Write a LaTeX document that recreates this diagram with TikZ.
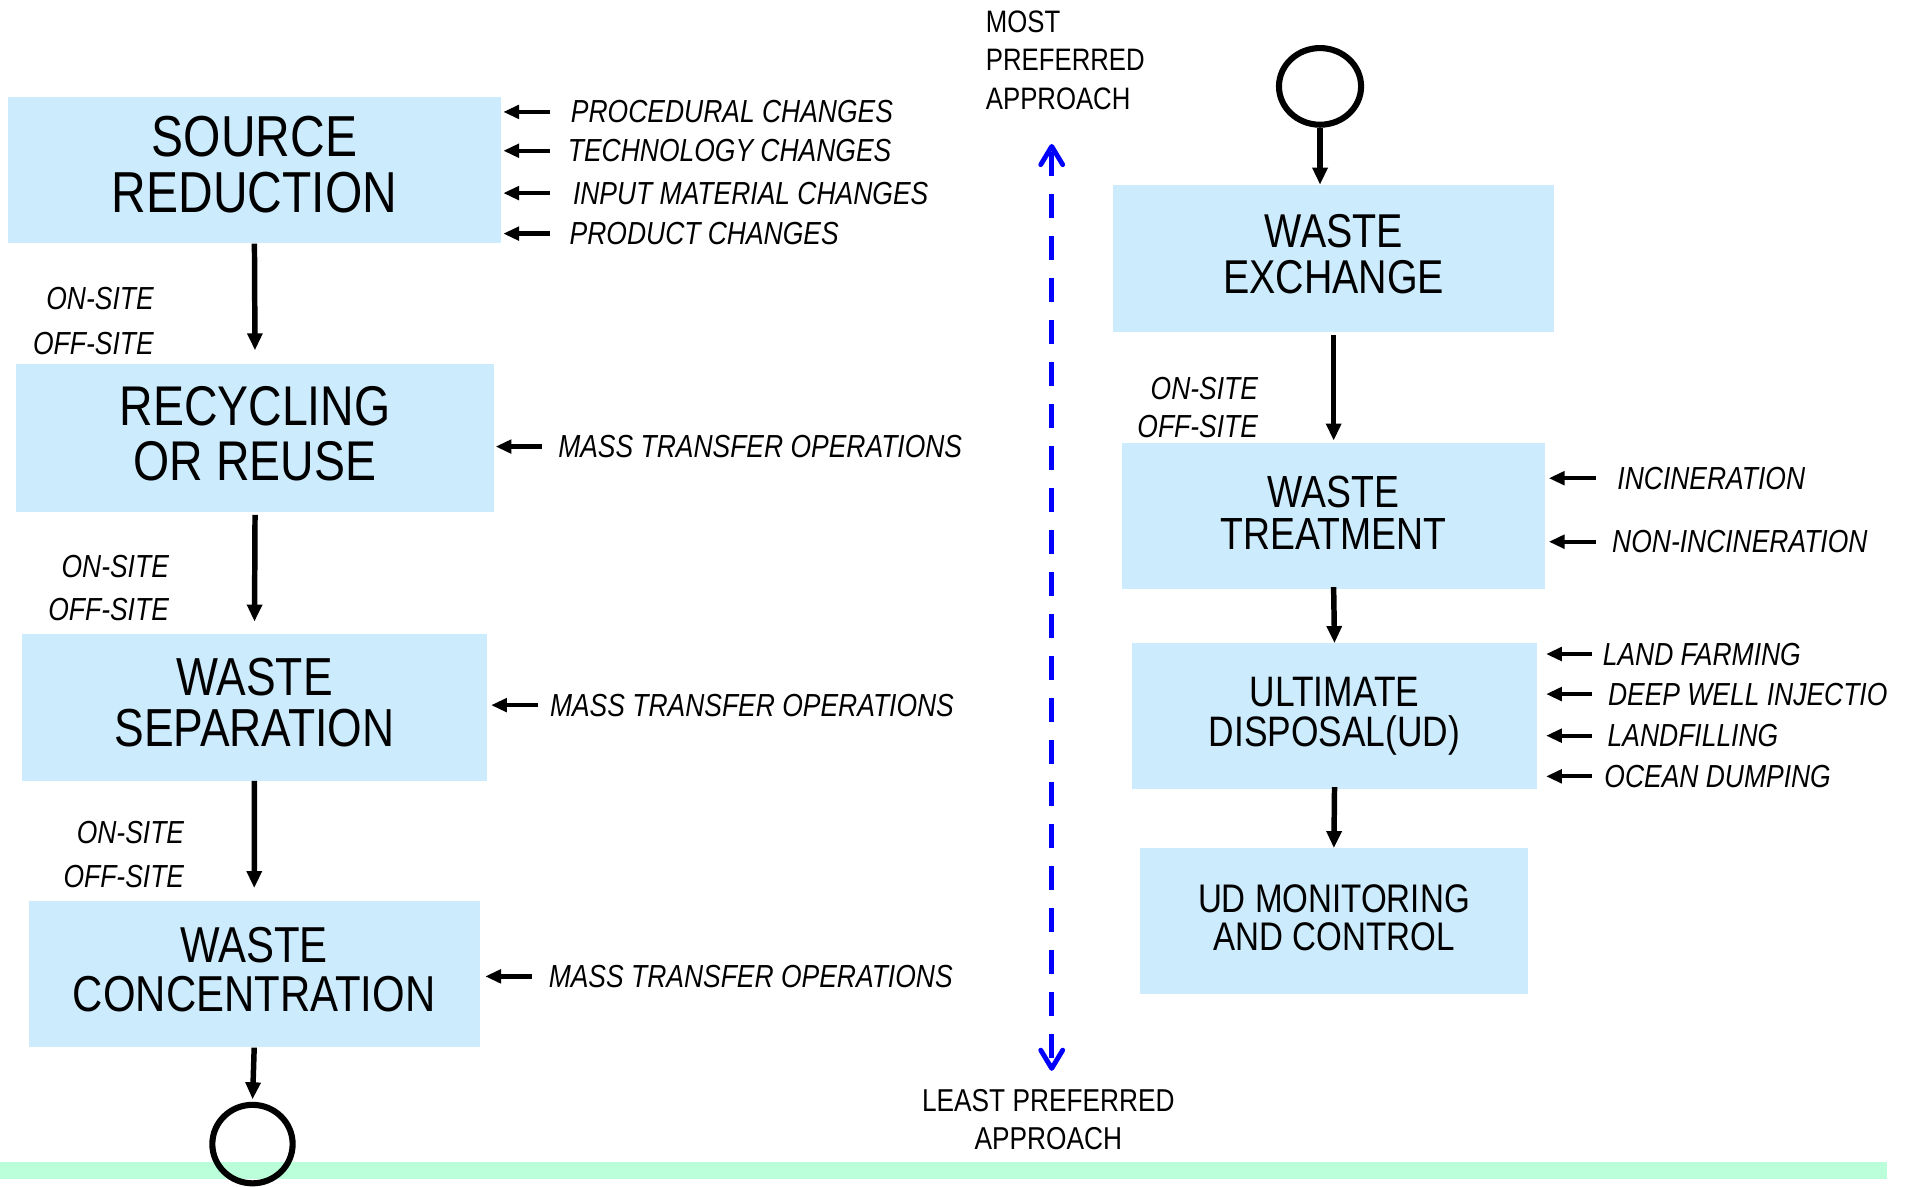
\documentclass[tikz,border=0pt]{standalone}
\usepackage{fontspec}
\setmainfont{Liberation Sans}[FakeStretch=0.83]
\usetikzlibrary{arrows.meta,shapes.geometric,calc}
\definecolor{boxfill}{RGB}{204,235,252}
\definecolor{barfill}{RGB}{187,255,218}
\definecolor{prefblue}{RGB}{0,0,255}
\newcommand\fsz[2]{\fontsize{#1}{#2}\selectfont}

\begin{document}
\begin{tikzpicture}[x=1pt,y=-1pt,
  stage/.style={fill=boxfill,inner sep=0pt},
  stagetext/.style={inner sep=0pt,align=center},
  flow/.style={line width=4.5pt,-{Triangle[length=14pt,width=12pt]}},
  feed/.style={line width=3.5pt,-{Triangle[length=13pt,width=11pt]}},
  note/.style={inner sep=0pt,font=\fsz{26.2}{26.2}\itshape},
  term/.style={ellipse,draw,line width=5pt,inner sep=0pt},
  pref/.style={draw=prefblue,line width=4pt,dash pattern=on 19.5pt off 15pt,dash phase=31.5pt,
    {Straight Barb[length=15pt,width=18pt,round]}-{Straight Barb[length=15pt,width=18pt,round]}}
]
\useasboundingbox (0,0) rectangle (1568,975);
\begin{scope}
\clip (0,0) rectangle (1551,975);

% footer band
\fill[barfill] (0,955.3) rectangle (1551,968.9);

% ---------- left column ----------
\node[stage,minimum width=404.6,minimum height=120.5] (sr) at (209.1,139.75) {};
\node[stage,minimum width=393,minimum height=121.4] (rr) at (209.6,359.8) {};
\node[stage,minimum width=381.6,minimum height=120.6] (ws) at (209.1,581.3) {};
\node[stage,minimum width=370.5,minimum height=120.2] (wc) at (208.9,800.6) {};

\node[stagetext,font=\fsz{47.5}{46}] (srt) at ($(sr.center)+(0,-4.7)$) {SOURCE\\REDUCTION};
\node[stagetext,font=\fsz{46}{45}] (rrt) at ($(rr.center)+(0,-3.6)$) {RECYCLING\\OR REUSE};
\node[stagetext,font=\fsz{44}{42.4}] (wst) at ($(ws.center)+(0,-4)$) {WASTE\\SEPARATION};
\node[stagetext,font=\fsz{41.5}{40}] (wct) at ($(wc.center)+(0,-3.7)$) {WASTE\\CONCENTRATION};

\node[term,minimum width=66,minimum height=64.5] (endL) at (207.5,940.2) {};

\draw[flow,shorten >=11pt] (sr.south) -- (rr.north);
\draw[flow,shorten <=2.5pt,shorten >=10pt] (rr.south) -- (ws.north);
\draw[flow,shorten >=10.5pt] (ws.south) -- (wc.north);
\draw[flow,shorten >=2pt] (wc.south) -- (endL.north);

\node[note,anchor=north east,align=right,font=\fsz{26.2}{36.4}\itshape] (site1) at (126.5,236.2) {ON-SITE\\OFF-SITE};
\node[note,anchor=north east,align=right,font=\fsz{26.2}{35.6}\itshape] (site2) at (139,456.2) {ON-SITE\\OFF-SITE};
\node[note,anchor=north east,align=right,font=\fsz{26.2}{36.4}\itshape] (site3) at (151.5,674.5) {ON-SITE\\OFF-SITE};

% source reduction measures
\node[note,anchor=base west] (p1) at (469,101) {PROCEDURAL CHANGES};
\node[note,anchor=base west] (p2) at (466.5,132.9) {TECHNOLOGY CHANGES};
\node[note,anchor=base west] (p3) at (470.7,167.7) {INPUT MATERIAL CHANGES};
\node[note,anchor=base west] (p4) at (468,201) {PRODUCT CHANGES};
\foreach \l in {p1,p2,p3,p4}
  \draw[feed] ($(sr.east |- \l.west)+(40,0)$) -- ($(sr.east |- \l.west)+(2,0)$);

\node[note,anchor=base west] (m1) at (458.6,376) {MASS TRANSFER OPERATIONS};
\node[note,anchor=base west] (m2) at (451.8,588.5) {MASS TRANSFER OPERATIONS};
\node[note,anchor=base west] (m3) at (450.8,811.4) {MASS TRANSFER OPERATIONS};
\draw[feed] ($(rr.east |- m1.west)+(39,0)$) -- ($(rr.east |- m1.west)+(1,0)$);
\draw[feed] ($(ws.east |- m2.west)+(42,0)$) -- ($(ws.east |- m2.west)+(3.5,0)$);
\draw[feed] ($(wc.east |- m3.west)+(43,0)$) -- ($(wc.east |- m3.west)+(4.4,0)$);

% ---------- preference scale ----------
\node[inner sep=0pt,anchor=north west,align=left,font=\fsz{25.5}{31.5}] (most) at (810,8.8) {MOST\\PREFERRED\\APPROACH};
\node[inner sep=0pt,anchor=north,align=center,font=\fsz{26}{30.7}] (least) at (861.5,895.4) {LEAST PREFERRED\\APPROACH};
\coordinate (hi) at (864.3,118.3);
\coordinate (lo) at (864.3,880);
\draw[pref] (hi) -- (lo);

% ---------- right column ----------
\node[term,minimum width=67.5,minimum height=63] (startR) at (1084.8,71) {};
\node[stage,minimum width=362,minimum height=121] (we) at (1096,212.5) {};
\node[stage,minimum width=348,minimum height=120] (wt) at (1096,424.3) {};
\node[stage,minimum width=333.3,minimum height=120] (ud) at (1096.7,588.7) {};
\node[stage,minimum width=318.6,minimum height=120] (udm) at (1096.2,757.2) {};

\node[stagetext,font=\fsz{39}{38}] (wet) at ($(we.center)+(0,-3.7)$) {WASTE\\EXCHANGE};
\node[stagetext,font=\fsz{37}{34.5}] (wtt) at ($(wt.center)+(0,-2.8)$) {WASTE\\TREATMENT};
\node[stagetext,font=\fsz{35}{33}] (udt) at (ud.center) {ULTIMATE\\DISPOSAL(UD)};
\node[stagetext,font=\fsz{32.8}{31.3}] (udmt) at ($(udm.center)+(0,-2.8)$) {UD MONITORING\\AND CONTROL};

\draw[flow] (startR.south) -- (startR.south |- we.north);
\draw[flow,shorten <=2pt,shorten >=2pt] (we.south) -- (wt.north);
\draw[flow,shorten <=-2pt] (wt.south) -- (ud.north);
\draw[flow,shorten <=-2pt] (ud.south) -- (udm.north);

\node[note,anchor=north east,align=right,font=\fsz{26.2}{31.2}\itshape] (site4) at (1034,309.9) {ON-SITE\\OFF-SITE};

\node[note,anchor=base west] (t1) at (1329,402) {INCINERATION};
\node[note,anchor=base west] (t2) at (1324.7,454.2) {NON-INCINERATION};
\foreach \l in {t1,t2}
  \draw[feed] ($(wt.east |- \l.west)+(41.6,0)$) -- ($(wt.east |- \l.west)+(2.6,0)$);

\node[note,anchor=base west] (d1) at (1317,546.5) {LAND FARMING};
\node[note,anchor=base west] (d2) at (1321.3,579.4) {DEEP WELL INJECTION};
\node[note,anchor=base west] (d3) at (1321,613.6) {LANDFILLING};
\node[note,anchor=base west] (d4) at (1318.3,647) {OCEAN DUMPING};
\foreach \l in {d1,d2,d3,d4}
  \draw[feed] ($(ud.east |- \l.west)+(45,0)$) -- ($(ud.east |- \l.west)+(7,0)$);
\end{scope}
\end{tikzpicture}
\end{document}
